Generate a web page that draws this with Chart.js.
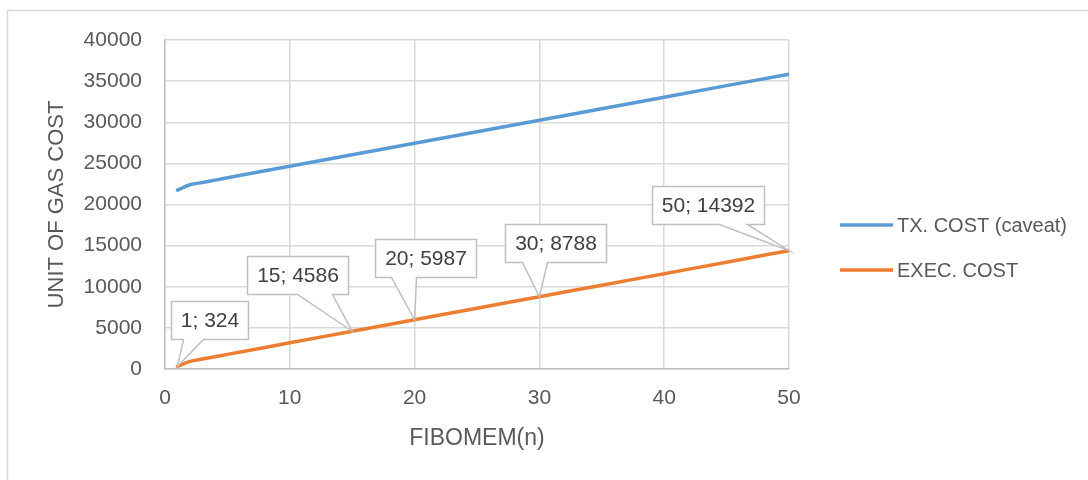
<!DOCTYPE html>
<html>
<head>
<meta charset="utf-8">
<script src="https://cdn.jsdelivr.net/npm/chart.js@4"></script>
<style>
  html, body { margin: 0; padding: 0; background: #ffffff; }
  #wrap { width: 1088px; height: 480px; position: relative; }
</style>
</head>
<body>
<div id="wrap"><canvas id="c" width="1088" height="480"></canvas></div>
<script>
// ---- data ----
const xValues = [1, 2, 3, 4, 5, 10, 15, 20, 25, 30, 35, 40, 45, 50];
const txCost = [21750, 22400, 22680, 22960, 23250, 24650, 26050, 27450, 28850, 30250, 31650, 33050, 34450, 35850];
const execCost = [324, 920, 1210, 1495, 1780, 3180, 4586, 5987, 7390, 8788, 10190, 11590, 12990, 14392];
const seriesNames = ["TX. COST (caveat)", "EXEC. COST"];
const labelledX = [1, 15, 20, 30, 50];
const xTicks = [0, 10, 20, 30, 40, 50];
const yTicks = [0, 5000, 10000, 15000, 20000, 25000, 30000, 35000, 40000];
const xTitle = "FIBOMEM(n)";
const yTitle = "UNIT OF GAS COST";

// ---- styling ----
const FONT = "'Liberation Sans', Arial, sans-serif";
const TEXT = "#595959";
const GRID = "#d9d9d9";
const BLUE = "#5b9bd5";
const ORANGE = "#ed7d31";

// callout placement (box centre offset from point, box bottom offset, wedge base from box left)
const calloutStyle = {
  1:  { dx: 32,    dy: -27, b1: 12, b2: 32 },
  15: { dx: -54.5, dy: -37, b1: 50, b2: 85 },
  20: { dx: 11,    dy: -43, b1: 16, b2: 41 },
  30: { dx: 16,    dy: -35, b1: 17, b2: 42 },
  50: { dx: -81.5, dy: -27, b1: 67, b2: 95 }
};

const toPts = (ys) => xValues.map((x, i) => ({ x: x, y: ys[i] }));

const frame = {
  id: 'frame',
  beforeDraw(chart) {
    const ctx = chart.ctx;
    ctx.save();
    ctx.fillStyle = '#ffffff';
    ctx.fillRect(0, 0, chart.width, chart.height);
    ctx.strokeStyle = GRID;
    ctx.lineWidth = 1.5;
    ctx.beginPath();
    ctx.moveTo(7.5, 480);
    ctx.lineTo(7.5, 10.5);
    ctx.lineTo(1088, 10.5);
    ctx.stroke();
    ctx.restore();
  }
};

const callouts = {
  id: 'callouts',
  afterDatasetsDraw(chart) {
    const ctx = chart.ctx;
    const meta = chart.getDatasetMeta(1);
    const ds = chart.data.datasets[1].data;
    ctx.save();
    ctx.font = "21px " + FONT;
    ds.forEach((p, i) => {
      if (!labelledX.includes(p.x)) return;
      const st = calloutStyle[p.x];
      const el = meta.data[i];
      const tx = el.x, ty = el.y;
      const text = p.x + "; " + p.y;
      const tw = ctx.measureText(text).width;
      const w = Math.round(tw + 19), h = 38;
      const L = Math.round(tx + st.dx - w / 2) + 0.5;
      const B = Math.round(ty + st.dy) + 0.5;
      const T = B - h, R = L + w;
      ctx.beginPath();
      ctx.moveTo(L, T);
      ctx.lineTo(R, T);
      ctx.lineTo(R, B);
      ctx.lineTo(L + st.b2, B);
      ctx.lineTo(tx, ty);
      ctx.lineTo(L + st.b1, B);
      ctx.lineTo(L, B);
      ctx.closePath();
      ctx.fillStyle = '#ffffff';
      ctx.fill();
      ctx.strokeStyle = '#bfbfbf';
      ctx.lineWidth = 1.5;
      ctx.stroke();
      ctx.fillStyle = '#404040';
      ctx.textAlign = 'center';
      ctx.textBaseline = 'middle';
      ctx.fillText(text, (L + R) / 2, (T + B) / 2 + 1);
    });
    ctx.restore();
  }
};

const legendDraw = {
  id: 'legendDraw',
  afterDraw(chart) {
    const ctx = chart.ctx;
    ctx.save();
    ctx.font = "20px " + FONT;
    ctx.textBaseline = 'middle';
    ctx.textAlign = 'left';
    const ys = [225, 270];
    chart.data.datasets.forEach((d, i) => {
      ctx.strokeStyle = d.borderColor;
      ctx.lineWidth = 3.5;
      ctx.beginPath();
      ctx.moveTo(840, ys[i]);
      ctx.lineTo(893, ys[i]);
      ctx.stroke();
      ctx.fillStyle = TEXT;
      ctx.fillText(d.label, 897, ys[i] + 1);
    });
    ctx.restore();
  }
};

new Chart(document.getElementById('c'), {
  type: 'line',
  data: {
    datasets: [
      { label: seriesNames[0], data: toPts(txCost), borderColor: BLUE, backgroundColor: BLUE,
        borderWidth: 3.5, pointRadius: 0, cubicInterpolationMode: 'monotone', borderCapStyle: 'round' },
      { label: seriesNames[1], data: toPts(execCost), borderColor: ORANGE, backgroundColor: ORANGE,
        borderWidth: 3.5, pointRadius: 0, cubicInterpolationMode: 'monotone', borderCapStyle: 'round' }
    ]
  },
  options: {
    responsive: false,
    animation: false,
    devicePixelRatio: 1,
    layout: { padding: { left: 41, right: 299, top: 40, bottom: 26 } },
    plugins: { legend: { display: false }, tooltip: { enabled: false } },
    scales: {
      x: {
        type: 'linear', min: 0, max: 50,
        afterBuildTicks(s) { s.ticks = xTicks.map(v => ({ value: v })); },
        afterFit(s) { s.height = 85; },
        grid: { color: GRID, lineWidth: 1.5, drawTicks: false },
        border: { color: '#bfbfbf', width: 1.5 },
        ticks: { color: TEXT, font: { family: FONT, size: 21 }, padding: 17, maxRotation: 0 },
        title: { display: true, text: xTitle, color: TEXT, font: { family: FONT, size: 23 }, padding: { top: 16, bottom: 2 } }
      },
      y: {
        type: 'linear', min: 0, max: 40000,
        afterBuildTicks(s) { s.ticks = yTicks.map(v => ({ value: v })); },
        afterFit(s) { s.width = 124; },
        grid: { color: GRID, lineWidth: 1.5, drawTicks: false },
        border: { color: '#bfbfbf', width: 1.5 },
        ticks: { color: TEXT, font: { family: FONT, size: 21 }, padding: 23, callback: v => String(v) },
        title: { display: true, text: yTitle, color: TEXT, font: { family: FONT, size: 22 }, padding: { top: 3, bottom: 4 } }
      }
    }
  },
  plugins: [frame, callouts, legendDraw]
});
</script>
</body>
</html>
